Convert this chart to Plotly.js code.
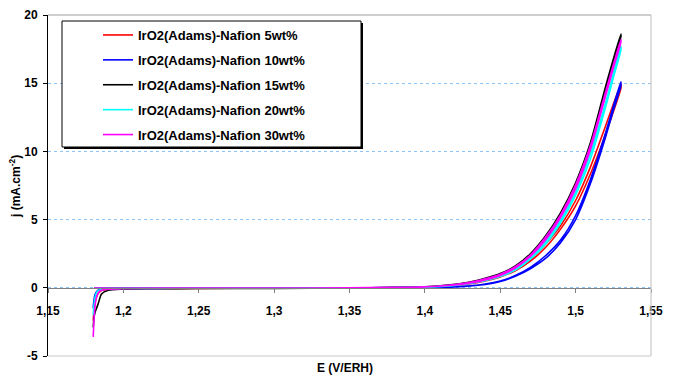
<!DOCTYPE html>
<html>
<head>
<meta charset="utf-8">
<script src="https://cdn.plot.ly/plotly-3.0.1.min.js"></script>
<style>html,body{margin:0;padding:0;background:#fff;}#chart{width:676px;height:376px;}</style>
</head>
<body>
<div id="chart"></div>
<script>
// Potential grids (V/ERH): forward sweep and reverse sweep
const E_fwd = [1.1800, 1.1805, 1.1812, 1.1822, 1.1835, 1.1855, 1.19, 1.2, 1.22, 1.25, 1.3, 1.35, 1.38, 1.4, 1.41, 1.42, 1.43, 1.44, 1.45, 1.46, 1.47, 1.48, 1.49, 1.5, 1.51, 1.52, 1.53];
const E_rev = [1.53, 1.525, 1.52, 1.51, 1.5, 1.49, 1.48, 1.47, 1.46, 1.45, 1.44, 1.43, 1.42, 1.4, 1.38, 1.35, 1.3, 1.25, 1.2, 1.19, 1.185, 1.1805];

const seriesNames = ["IrO2(Adams)-Nafion 5wt%", "IrO2(Adams)-Nafion 10wt%", "IrO2(Adams)-Nafion 15wt%", "IrO2(Adams)-Nafion 20wt%", "IrO2(Adams)-Nafion 30wt%"];
const seriesColors = ["#ff0000", "#0000ff", "#000000", "#00ffff", "#ff00ff"];

// current density j (mA.cm-2)
const j5_fwd  = [-2.4, -1.7, -1.1, -0.65, -0.38, -0.2, -0.12, -0.07, -0.05, -0.04, -0.03, 0, 0.02, 0.06, 0.11, 0.2, 0.34, 0.56, 0.88, 1.35, 2.1, 3.2, 4.55, 6.4, 8.9, 11.9, 14.9];
const j5_rev  = [14.6, 12.9, 11.3, 8.4, 6.0, 4.3, 2.95, 1.95, 1.25, 0.8, 0.5, 0.3, 0.17, 0.05, 0.02, 0, -0.02, -0.03, -0.04, -0.04, -0.03, -0.01];
const j10_fwd = [-1.5, -0.9, -0.5, -0.28, -0.16, -0.1, -0.07, -0.05, -0.04, -0.03, -0.02, -0.01, 0.0, 0.02, 0.04, 0.07, 0.14, 0.27, 0.5, 0.9, 1.5, 2.35, 3.5, 5.3, 8.0, 11.4, 15.1];
const j10_rev = [14.8, 13.0, 11.1, 7.7, 5.0, 3.3, 2.15, 1.4, 0.85, 0.46, 0.25, 0.13, 0.07, 0.02, 0.01, 0, -0.01, -0.02, -0.03, -0.03, -0.02, -0.01];
const j15_fwd = [-2.9, -2.2, -1.8, -1.5, -1.1, -0.45, -0.18, -0.1, -0.07, -0.05, -0.04, -0.01, 0.03, 0.08, 0.14, 0.25, 0.42, 0.7, 1.05, 1.6, 2.5, 3.8, 5.5, 7.7, 10.7, 14.8, 18.6];
const j15_rev = [18.4, 16.4, 14.4, 10.4, 7.4, 5.3, 3.6, 2.35, 1.5, 0.95, 0.62, 0.38, 0.22, 0.06, 0.02, -0.01, -0.03, -0.04, -0.05, -0.05, -0.04, -0.02];
const j20_fwd = [-2.0, -1.3, -0.7, -0.35, -0.2, -0.12, -0.08, -0.05, -0.04, -0.03, -0.02, 0, 0.02, 0.06, 0.11, 0.2, 0.35, 0.58, 0.9, 1.4, 2.2, 3.4, 4.95, 7.05, 9.9, 13.6, 17.7];
const j20_rev = [17.4, 15.4, 13.3, 9.5, 6.8, 4.75, 3.2, 2.1, 1.3, 0.82, 0.52, 0.32, 0.18, 0.05, 0.02, 0, -0.02, -0.02, -0.03, -0.03, -0.02, -0.01];
const j30_fwd = [-3.6, -2.4, -1.3, -0.7, -0.35, -0.18, -0.1, -0.06, -0.04, -0.03, -0.02, 0, 0.03, 0.07, 0.13, 0.23, 0.4, 0.66, 1.0, 1.55, 2.4, 3.7, 5.35, 7.55, 10.5, 14.4, 18.2];
const j30_rev = [18.0, 16.1, 14.1, 10.2, 7.25, 5.15, 3.5, 2.3, 1.45, 0.9, 0.58, 0.35, 0.2, 0.06, 0.02, 0.0, -0.02, -0.02, -0.03, -0.03, -0.02, -0.01];

const xTickVals = [1.15, 1.2, 1.25, 1.3, 1.35, 1.4, 1.45, 1.5, 1.55];
const xTickText = ["1,15", "1,2", "1,25", "1,3", "1,35", "1,4", "1,45", "1,5", "1,55"];
const yTickVals = [-5, 0, 5, 10, 15, 20];
const yTickText = ["-5", "0", "5", "10", "15", "20"];

const fwd = [j5_fwd, j10_fwd, j15_fwd, j20_fwd, j30_fwd];
const rev = [j5_rev, j10_rev, j15_rev, j20_rev, j30_rev];

const FONT = "Liberation Sans, Arial, sans-serif";

const traces = seriesNames.map((name, i) => ({
  type: "scatter",
  mode: "lines",
  name: name,
  legendgroup: "g" + i,
  x: E_fwd.concat(E_rev),
  y: fwd[i].concat(rev[i]),
  line: {color: seriesColors[i], width: 1.6, shape: "spline", smoothing: 0.7},
  hoverinfo: "skip"
}));

// pixel helpers for paper coordinates (plot area 48..651 x, 15..356 y)
const L = 48, R = 651, T = 15, B = 356;
const px = v => (v - L) / (R - L);
const py = v => (B - v) / (B - T);

const layout = {
  width: 676, height: 376,
  margin: {l: L, r: 676 - R, t: T, b: 376 - B, pad: 0},
  paper_bgcolor: "#ffffff",
  plot_bgcolor: "#ffffff",
  font: {family: FONT, color: "#000000", size: 12},
  showlegend: true,
  legend: {
    x: px(98), y: py(20), xanchor: "left", yanchor: "top",
    bgcolor: "rgba(0,0,0,0)", borderwidth: 0,
    font: {family: FONT, size: 13, weight: "bold", color: "#000"},
    tracegroupgap: 5
  },
  xaxis: {
    range: [1.15, 1.55],
    tickvals: xTickVals, ticktext: xTickText,
    anchor: "free", position: 0.2,
    showline: true, linecolor: "#808080", linewidth: 1.2,
    ticks: "outside", ticklen: 4, tickcolor: "#808080",
    tickfont: {family: FONT, size: 12, weight: "bold", color: "#000"},
    ticklabelstandoff: 8,
    showgrid: false, zeroline: false, fixedrange: true
  },
  yaxis: {
    range: [-5, 20],
    tickvals: yTickVals, ticktext: yTickText,
    showline: true, linecolor: "#000000", linewidth: 1,
    ticks: "outside", ticklen: 4, tickcolor: "#000",
    tickfont: {family: FONT, size: 12, weight: "bold", color: "#000"},
    ticklabelstandoff: 3,
    showgrid: true, gridcolor: "#8cc4f5", gridwidth: 1, griddash: "dot",
    zeroline: false, fixedrange: true
  },
  shapes: [
    {type: "line", xref: "paper", yref: "paper", x0: 0, x1: 1, y0: 1, y1: 1, line: {color: "#a0a0a0", width: 1.2}},
    {type: "line", xref: "paper", yref: "paper", x0: 1, x1: 1, y0: 0, y1: 1, line: {color: "#c8c8c8", width: 1.2}},
    {type: "line", xref: "paper", yref: "paper", x0: 0, x1: 1, y0: 0, y1: 0, line: {color: "#c8c8c8", width: 1.2}},
    {type: "rect", xref: "paper", yref: "paper", x0: px(64), x1: px(363), y0: py(149), y1: py(23), fillcolor: "#000", line: {width: 0}},
    {type: "rect", xref: "paper", yref: "paper", x0: px(62), x1: px(361), y0: py(147), y1: py(21), fillcolor: "#fff", line: {color: "#000", width: 1}}
  ],
  annotations: [
    {xref: "paper", yref: "paper", x: px(345), y: py(368), xanchor: "center", yanchor: "middle",
     text: "E (V/ERH)", showarrow: false, font: {family: FONT, size: 12, weight: "bold", color: "#000"}},
    {xref: "paper", yref: "paper", x: px(15), y: py(187), xanchor: "center", yanchor: "middle",
     text: "j (mA.cm<sup>-2</sup>)", textangle: -90, showarrow: false, font: {family: FONT, size: 12, weight: "bold", color: "#000"}}
  ],
  hovermode: false
};

Plotly.newPlot("chart", traces, layout, {displayModeBar: false, staticPlot: true});
</script>
</body>
</html>
